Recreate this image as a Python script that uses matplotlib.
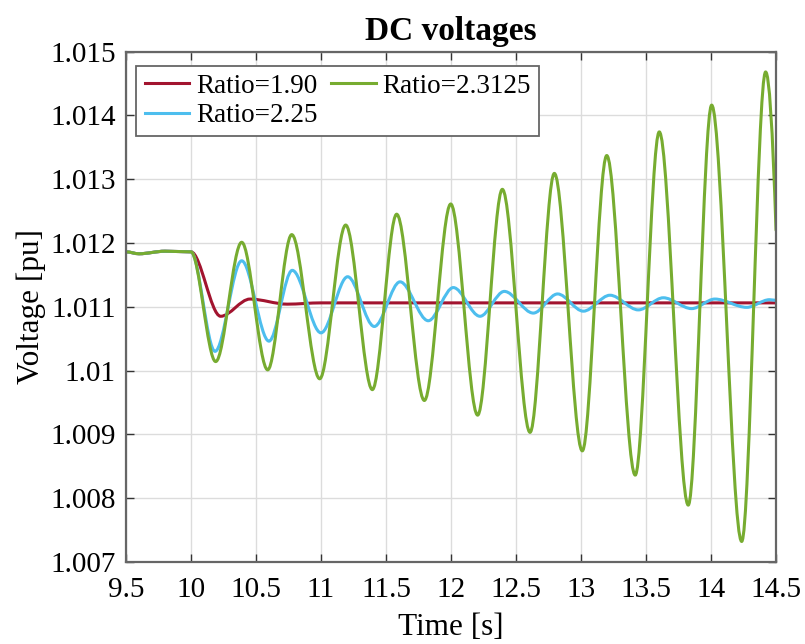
import numpy as np
import matplotlib
matplotlib.use('Agg')
import matplotlib.pyplot as plt
from matplotlib.path import Path
from matplotlib.patches import PathPatch
from matplotlib.lines import Line2D
from matplotlib.ticker import FormatStrFormatter

# values (turning points of each trace)
red_t = [9.5, 9.6, 9.8, 10.0, 10.228, 10.454, 10.74, 11.0, 14.5]
red_v = [1.01186, 1.01183, 1.01187, 1.01186, 1.01085, 1.01112, 1.01104, 1.01106, 1.01106]

blue_t = [9.5, 9.6, 9.8, 10.0, 10.185, 10.39, 10.6, 10.779, 11.0, 11.205, 11.41,
          11.608, 11.825, 12.018, 12.223, 12.41, 12.633, 12.82, 13.018, 13.223,
          13.441, 13.633, 13.851, 14.03, 14.275, 14.45, 14.5]
blue_v = [1.01186, 1.01183, 1.01187, 1.01186, 1.01030, 1.01172, 1.01046, 1.01157,
          1.01059, 1.01147, 1.01069, 1.01139, 1.01078, 1.01130, 1.01085, 1.01124,
          1.01090, 1.01120, 1.01093, 1.01118, 1.01095, 1.01114, 1.01097, 1.01112,
          1.01099, 1.01111, 1.01110]

green_t = [9.5, 9.6, 9.8, 10.0, 10.19, 10.39, 10.59, 10.775, 10.99, 11.19, 11.395,
           11.582, 11.795, 11.998, 12.205, 12.395, 12.608, 12.795, 13.01, 13.198,
           13.417, 13.602, 13.825, 14.005, 14.236, 14.42, 14.5]
green_v = [1.01186, 1.01183, 1.01187, 1.01186, 1.01014, 1.01201, 1.01001, 1.01213,
           1.00987, 1.01228, 1.00970, 1.01245, 1.00953, 1.01261, 1.00930, 1.01284,
           1.00903, 1.01309, 1.00874, 1.01337, 1.00836, 1.01374, 1.00789, 1.01416,
           1.00732, 1.01468, 1.01220]

labels = ['Ratio=1.90', 'Ratio=2.25', 'Ratio=2.3125']
colors = ['#A2142F', '#4DBEEE', '#77AC30']

x_ticks = [9.5, 10, 10.5, 11, 11.5, 12, 12.5, 13, 13.5, 14, 14.5]
y_ticks = [1.007, 1.008, 1.009, 1.010, 1.011, 1.012, 1.013, 1.014, 1.015]


def smooth_path(t, v, open_end=False):
    # bezier through the turning points, flat tangent at each one
    verts = [(t[0], v[0])]
    codes = [Path.MOVETO]
    n = len(t)
    for i in range(n - 1):
        d = t[i + 1] - t[i]
        if open_end and i == n - 2:
            verts += [(t[i] + d / 2, v[i]), (t[i + 1], v[i + 1])]
            codes += [Path.CURVE3, Path.CURVE3]
        else:
            verts += [(t[i] + d / 3, v[i]), (t[i + 1] - d / 3, v[i + 1]), (t[i + 1], v[i + 1])]
            codes += [Path.CURVE4] * 3
    return Path(verts, codes)


plt.rcParams['font.family'] = ['Liberation Serif', 'DejaVu Serif']

fig = plt.figure(figsize=(8.05, 6.44), dpi=100)
ax = fig.add_axes([0.1565, 0.1275, 0.8075, 0.7925])

series = [(red_t, red_v, False), (blue_t, blue_v, False), (green_t, green_v, True)]
handles = []
for (t, v, oe), c, lab in zip(series, colors, labels):
    ax.add_patch(PathPatch(smooth_path(t, v, oe), facecolor='none', edgecolor=c,
                           lw=2.2, capstyle='round', joinstyle='round'))
    handles.append(Line2D([], [], color=c, lw=2.2, label=lab))

ax.set_xlim(9.5, 14.5)
ax.set_ylim(1.007, 1.015)
ax.set_xticks(x_ticks)
ax.set_yticks(y_ticks)
ax.xaxis.set_major_formatter(FormatStrFormatter('%g'))
ax.yaxis.set_major_formatter(FormatStrFormatter('%g'))
ax.tick_params(direction='in', top=True, right=True, length=6, width=1,
               labelsize=21, color='#333333')
ax.tick_params(axis='x', pad=11)
ax.tick_params(axis='y', pad=7.5)
ax.grid(True, color='#dcdcdc', lw=1)
ax.set_axisbelow(True)
for s in ax.spines.values():
    s.set_color('#666666')
    s.set_linewidth(1.6)

ax.set_xlabel('Time [s]', fontsize=22.5, labelpad=7)
ax.set_ylabel('Voltage [pu]', fontsize=22.5, labelpad=3)
ax.set_title('DC voltages', fontsize=24, fontweight='bold', pad=8)

leg = ax.legend(handles=handles, ncol=2, loc='upper left', bbox_to_anchor=(0.016, 0.972),
                borderaxespad=0, fontsize=19.5, handlelength=1.65, handletextpad=0.25,
                columnspacing=0.5, labelspacing=0.15, borderpad=0.3, fancybox=False,
                framealpha=1)
leg.get_frame().set_edgecolor('#666666')
leg.get_frame().set_linewidth(1.3)

fig.savefig('out.png', dpi=100)
